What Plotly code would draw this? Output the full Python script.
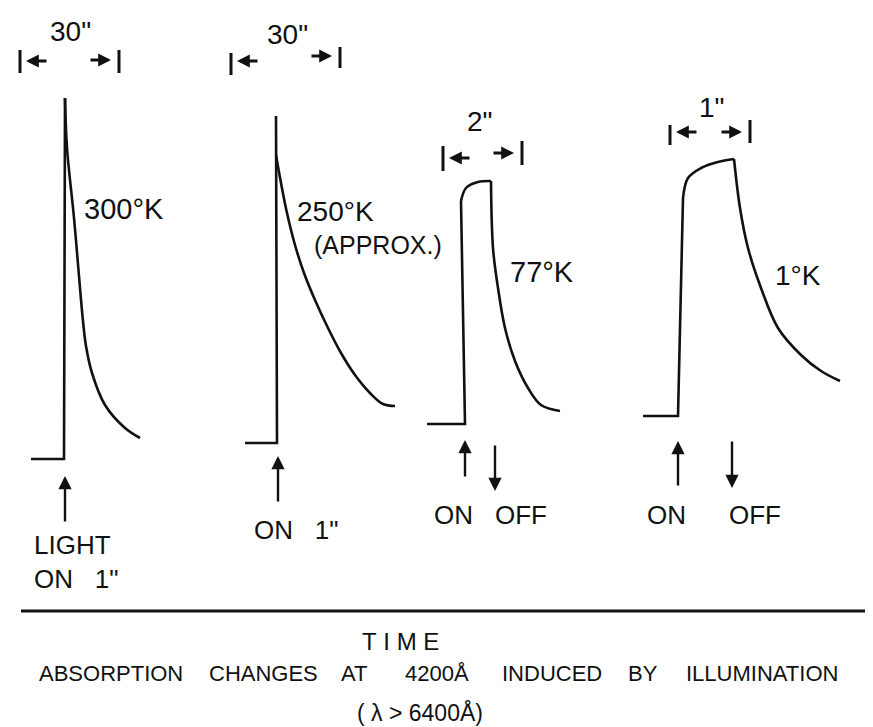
import plotly.graph_objects as go

# ---------------- data (time / absorption in drawing units) ----------------
# 300 K
rise_300K_t = [23, 56, 57]
rise_300K_a = [451, 451, 90]
decay_300K_t = [57, 59, 66, 72, 75, 78, 84, 97, 117, 132]
decay_300K_a = [90, 140, 210, 280, 313, 338, 365, 397, 420, 430]

# 250 K (approx.)
rise_250K_t = [237, 269, 268]
rise_250K_a = [435, 435, 108]
decay_250K_t = [268, 273, 279, 287, 296, 307, 320, 333, 347, 362, 375, 387]
decay_250K_a = [147, 175, 205, 237, 265, 292, 320, 345, 367, 385, 396, 398]

# 77 K
rise_77K_t = [419, 457, 453]
rise_77K_a = [416, 416, 193]
plateau_77K_t = [453, 458, 470, 483]
plateau_77K_a = [193, 180, 174, 173]
decay_77K_t = [483, 485, 490, 497, 507, 520, 533, 552]
decay_77K_a = [173, 240, 280, 320, 353, 380, 397, 403]

# 1 K
rise_1K_t = [635, 670, 675]
rise_1K_a = [408, 408, 190]
plateau_1K_t = [675, 680, 693, 710, 726]
plateau_1K_a = [190, 170, 160, 154, 151]
decay_1K_t = [726, 732, 740, 753, 770, 793, 813, 832]
decay_1K_a = [151, 200, 240, 280, 320, 347, 363, 373]

# interval markers (start, end) and their labels
interval_start = [12, 223, 435, 662]
interval_end = [111, 332, 514, 742]
interval_labels = ['30"', '30"', '2"', '1"']

# light ON / OFF instants
light_on_t = [57, 270, 457, 670]
light_off_t = [None, None, 487, 724]

temp_labels = ["300°K", "250°K", "77°K", "1°K"]

caption_words = ["ABSORPTION", "CHANGES", "AT", "4200Å", "INDUCED", "BY", "ILLUMINATION"]

# ---------------------------------------------------------------------------
BLACK = "#111111"
FONT = "Liberation Sans, Arial, sans-serif"
LW = 2.6

fig = go.Figure()


def add_line(t, a, shape="linear", w=LW):
    fig.add_trace(go.Scatter(x=t, y=a, mode="lines", hoverinfo="skip",
                             line=dict(color=BLACK, width=w, shape=shape,
                                       smoothing=1.0 if shape == "spline" else None),
                             showlegend=False))


add_line(rise_300K_t, rise_300K_a)
add_line(decay_300K_t, decay_300K_a, "spline")
add_line(rise_250K_t, rise_250K_a)
add_line(decay_250K_t, decay_250K_a, "spline")
add_line(rise_77K_t, rise_77K_a)
add_line(plateau_77K_t, plateau_77K_a, "spline")
add_line(decay_77K_t, decay_77K_a, "spline")
add_line(rise_1K_t, rise_1K_a)
add_line(plateau_1K_t, plateau_1K_a, "spline")
add_line(decay_1K_t, decay_1K_a, "spline")

annotations = []


def arrow(x0, y0, x1, y1, w=2.4, size=1.0, head=2):
    annotations.append(dict(x=x1, y=y1, ax=x0, ay=y0, xref="x", yref="y",
                            axref="x", ayref="y", text="", showarrow=True,
                            arrowhead=head, arrowsize=size, arrowwidth=w,
                            arrowcolor=BLACK, standoff=0, startstandoff=0))


def text(x, y, s, size=27, xanchor="center"):
    annotations.append(dict(x=x, y=y, xref="x", yref="y", text=s, showarrow=False,
                            xanchor=xanchor, yanchor="middle", borderpad=0,
                            font=dict(family=FONT, size=size, color=BLACK)))


# interval brackets |<-  ->|
bar_top = [42, 45, 138, 117]
bar_bot = [65, 67, 163, 137]
bar_top_r = [42, 39, 133, 112]
bar_bot_r = [65, 60, 157, 135]
arrow_y_l = [53, 53, 150, 124]
arrow_y_r = [52, 48, 145, 124]
label_pos = [(62, 23), (279, 26), (472, 113), (704, 99)]
for i in range(4):
    s, e = interval_start[i], interval_end[i]
    add_line([s, s], [bar_top[i], bar_bot[i]], w=3)
    add_line([e, e], [bar_top_r[i], bar_bot_r[i]], w=3)
    ln = 22
    arrow(s + 6 + ln, arrow_y_l[i], s + 6, arrow_y_l[i], w=3.2, size=0.8, head=2)
    arrow(e - 8 - ln, arrow_y_r[i], e - 8, arrow_y_r[i], w=3.2, size=0.8, head=2)
    text(label_pos[i][0], label_pos[i][1], interval_labels[i], size=28)

# temperature labels
text(75, 201, temp_labels[0], size=29, xanchor="left")
text(288, 203, temp_labels[1], size=28, xanchor="left")
text(305, 237, "(APPROX.)", size=25, xanchor="left")
text(501, 264, temp_labels[2], size=29, xanchor="left")
text(766, 267, temp_labels[3], size=28, xanchor="left")

# ON / OFF arrows
on_tail = [515, 495, 470, 479]
on_tip = [468, 448, 432, 433]
off_tail = [None, None, 436, 432]
off_tip = [None, None, 483, 480]
for i in range(4):
    arrow(light_on_t[i], on_tail[i], light_on_t[i], on_tip[i], w=2.4, size=1.1, head=2)
    if light_off_t[i] is not None:
        arrow(light_off_t[i], off_tail[i], light_off_t[i], off_tip[i], w=2.4, size=1.1, head=2)

text(25, 537, "LIGHT", size=26, xanchor="left")
text(25, 571, "ON\u00a0\u00a0\u00a01\"", size=26, xanchor="left")
text(245, 522, "ON\u00a0\u00a0\u00a01\"", size=26, xanchor="left")
text(425, 507, "ON", size=26, xanchor="left")
text(486, 507, "OFF", size=26, xanchor="left")
text(638, 507, "ON", size=26, xanchor="left")
text(720, 507, "OFF", size=26, xanchor="left")

# time axis with open arrow head
axis_y = 603
add_line([13, 872], [axis_y, axis_y], w=2.8)
add_line([860, 872, 860], [axis_y - 8, axis_y, axis_y + 8], w=2.2)
text(392, 633, "T\u00a0I\u00a0M\u00a0E", size=24)

# caption
word_centers = [103, 255, 346, 429, 544, 635, 754]
for w_, c in zip(caption_words, word_centers):
    text(c, 665, w_, size=22)
text(412, 704, "(\u00a0λ\u00a0>\u00a06400Å)", size=23)

fig.update_layout(
    width=873, height=727,
    margin=dict(l=0, r=0, t=0, b=0),
    paper_bgcolor="white", plot_bgcolor="white",
    xaxis=dict(range=[0, 873], visible=False, fixedrange=True),
    yaxis=dict(range=[727, 0], visible=False, fixedrange=True),
    annotations=annotations,
    showlegend=False,
)

fig.write_html("out.html")
